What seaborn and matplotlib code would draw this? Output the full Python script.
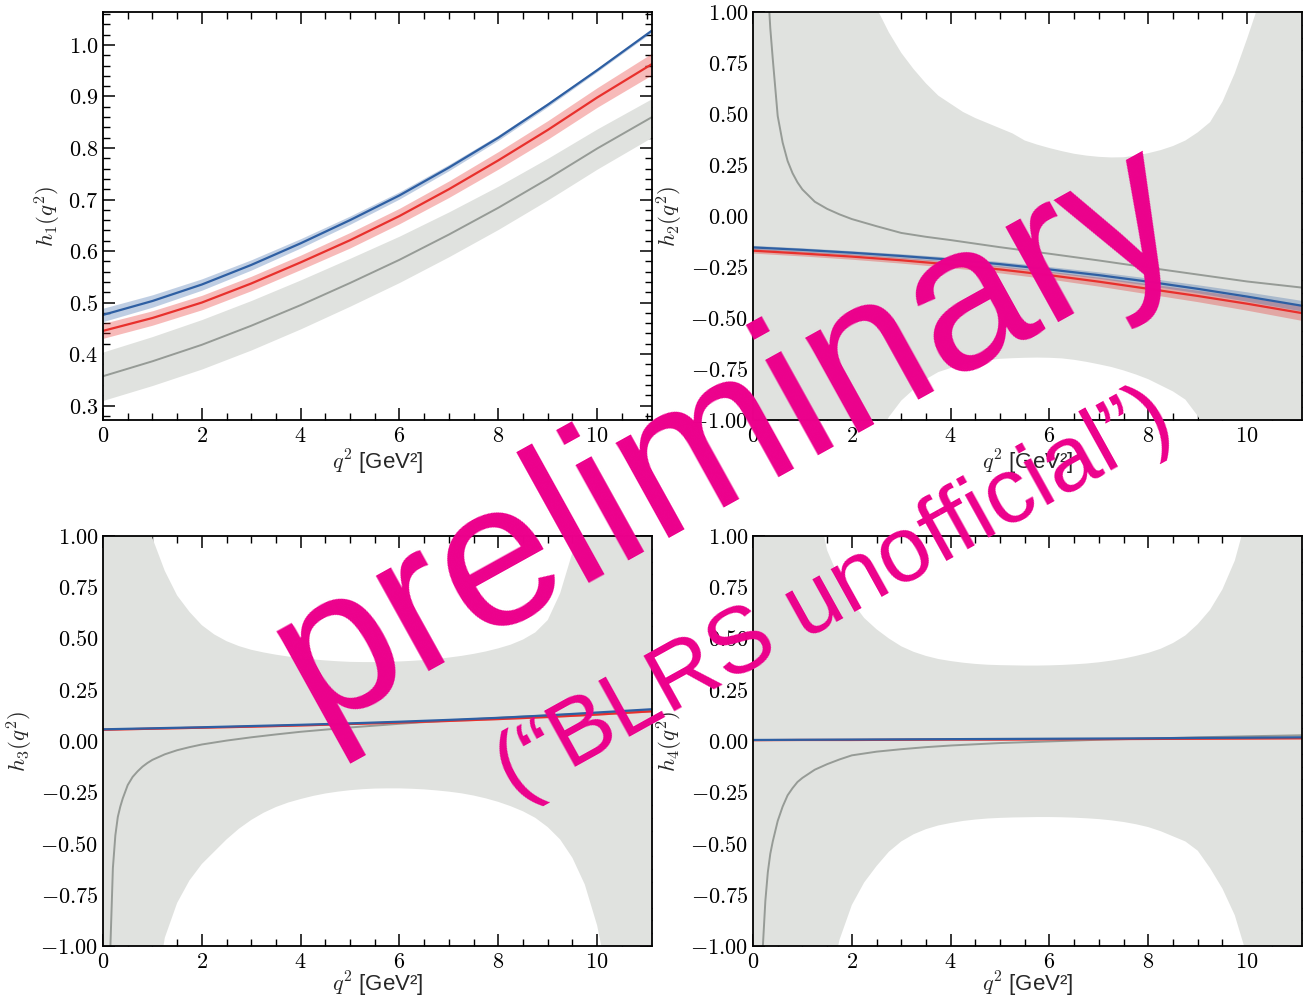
import matplotlib
matplotlib.use("Agg")
import matplotlib.pyplot as plt
from matplotlib.ticker import MultipleLocator, AutoMinorLocator, FuncFormatter
import seaborn as sns

# ---------------------------------------------------------------- data
# q^2 grid of the fitted form factors (blue / red) and of h1's light-cone curve
q2 = [0.0, 1.0, 2.0, 3.0, 4.0, 5.0, 6.0, 7.0, 8.0, 9.0, 10.0, 11.11]
# q^2 grid of the light-cone uncertainty bands of h2..h4
q2_band = [0.0, 0.25, 0.5, 0.75, 1.0, 1.25, 1.5, 1.75, 2.0, 2.25, 2.5, 2.75, 3.0, 3.25,
           3.5, 3.75, 4.0, 4.25, 4.5, 4.75, 5.0, 5.25, 5.5, 5.75, 6.0, 6.25, 6.5, 6.75,
           7.0, 7.25, 7.5, 7.75, 8.0, 8.25, 8.5, 8.75, 9.0, 9.25, 9.5, 9.75, 10.0, 10.25,
           10.5, 10.75, 11.0, 11.11]
# q^2 grid of the light-cone central curves of h2..h4 (dense where they blow up)
q2_line = [0.05, 0.1, 0.15, 0.2, 0.25, 0.3, 0.35, 0.4, 0.5, 0.6, 0.7, 0.8, 0.9, 1.0,
           1.25, 1.5, 1.75, 2.0, 2.5, 3.0, 3.5, 4.0, 5.0, 6.0, 7.0, 8.0, 9.0, 10.0, 11.11]

# h1
h1_blue = [0.476, 0.503, 0.535, 0.573, 0.615, 0.660, 0.708, 0.762, 0.820, 0.884, 0.951, 1.028]
h1_blue_err = [0.013, 0.012, 0.011, 0.010, 0.009, 0.008, 0.007, 0.006, 0.005, 0.004, 0.003, 0.003]
h1_red = [0.445, 0.470, 0.500, 0.537, 0.578, 0.621, 0.668, 0.720, 0.776, 0.835, 0.898, 0.963]
h1_red_err = [0.0145, 0.014, 0.014, 0.014, 0.014, 0.015, 0.015, 0.016, 0.017, 0.018, 0.019, 0.021]
h1_gray = [0.357, 0.386, 0.418, 0.455, 0.495, 0.538, 0.583, 0.632, 0.684, 0.740, 0.799, 0.860]
h1_gray_hi = [0.404, 0.434, 0.467, 0.504, 0.544, 0.586, 0.629, 0.676, 0.726, 0.780, 0.837, 0.896]
h1_gray_lo = [0.310, 0.339, 0.371, 0.408, 0.449, 0.493, 0.539, 0.589, 0.642, 0.699, 0.759, 0.821]

# h2
h2_blue = [-0.154, -0.166, -0.180, -0.196, -0.214, -0.236, -0.262, -0.290, -0.322, -0.357, -0.395, -0.440]
h2_blue_err = [0.010, 0.010, 0.010, 0.011, 0.012, 0.013, 0.014, 0.016, 0.018, 0.020, 0.023, 0.026]
h2_red = [-0.170, -0.184, -0.199, -0.217, -0.238, -0.262, -0.290, -0.322, -0.357, -0.392, -0.430, -0.476]
h2_red_err = [0.012, 0.012, 0.013, 0.014, 0.015, 0.017, 0.019, 0.022, 0.025, 0.028, 0.032, 0.036]
h2_gray = [8.0, 4.0, 2.6, 1.9, 1.45, 1.13, 0.92, 0.77, 0.49, 0.36, 0.27, 0.21, 0.165, 0.13,
           0.07, 0.035, 0.008, -0.015, -0.05, -0.083, -0.102, -0.118, -0.153, -0.185,
           -0.218, -0.253, -0.287, -0.321, -0.351]
h2_gray_hi = [50.0, 20.0, 10.0, 6.0, 4.2, 3.2, 2.5, 2.0, 1.6, 1.28, 1.02, 0.90, 0.80, 0.72,
              0.65, 0.59, 0.55, 0.51, 0.48, 0.455, 0.43, 0.405, 0.37, 0.35, 0.333, 0.318,
              0.305, 0.296, 0.29, 0.287, 0.288, 0.296, 0.308, 0.323, 0.343, 0.37, 0.41,
              0.46, 0.56, 0.70, 0.87, 1.05, 1.3, 1.6, 2.0, 2.2]
h2_gray_lo = [-50.0, -20.0, -10.0, -6.0, -4.2, -3.2, -2.5, -2.0, -1.6, -1.32, -1.1, -0.985,
              -0.905, -0.85, -0.80, -0.765, -0.745, -0.728, -0.716, -0.707, -0.70, -0.697,
              -0.695, -0.694, -0.695, -0.698, -0.705, -0.715, -0.727, -0.74, -0.757, -0.777,
              -0.80, -0.83, -0.86, -0.90, -0.98, -1.1, -1.25, -1.45, -1.7, -2.0, -2.4, -2.9,
              -3.5, -3.8]

# h3
h3_blue = [0.057, 0.062, 0.067, 0.073, 0.079, 0.086, 0.094, 0.103, 0.113, 0.125, 0.139, 0.155]
h3_blue_err = [0.003] * 12
h3_red = [0.055, 0.060, 0.065, 0.070, 0.076, 0.083, 0.090, 0.098, 0.107, 0.117, 0.129, 0.145]
h3_red_err = [0.003] * 12
h3_gray = [-6.0, -2.2, -1.0, -0.62, -0.46, -0.37, -0.32, -0.28, -0.215, -0.175, -0.148,
           -0.125, -0.107, -0.092, -0.065, -0.045, -0.03, -0.017, 0.002, 0.018, 0.032,
           0.045, 0.066, 0.084, 0.100, 0.113, 0.125, 0.136, 0.146]
h3_gray_hi = [50.0, 10.0, 3.0, 1.6, 0.99, 0.83, 0.71, 0.63, 0.565, 0.52, 0.487, 0.463,
              0.445, 0.432, 0.421, 0.412, 0.404, 0.398, 0.393, 0.389, 0.386, 0.385, 0.385,
              0.386, 0.388, 0.391, 0.395, 0.40, 0.407, 0.415, 0.425, 0.437, 0.452, 0.47,
              0.495, 0.53, 0.59, 0.72, 0.92, 1.2, 1.5, 2.0, 2.7, 3.6, 4.8, 5.4]
h3_gray_lo = [-50.0, -12.0, -4.5, -2.2, -1.35, -0.96, -0.79, -0.68, -0.60, -0.54, -0.48,
              -0.428, -0.385, -0.35, -0.322, -0.30, -0.283, -0.268, -0.256, -0.247, -0.24,
              -0.235, -0.232, -0.231, -0.231, -0.233, -0.236, -0.241, -0.247, -0.255,
              -0.266, -0.28, -0.297, -0.318, -0.343, -0.375, -0.42, -0.48, -0.57, -0.70,
              -0.90, -1.2, -1.6, -2.2, -3.0, -3.4]

# h4
h4_blue = [0.005, 0.006, 0.007, 0.008, 0.009, 0.010, 0.011, 0.012, 0.013, 0.015, 0.016, 0.018]
h4_blue_err = [0.002] * 12
h4_red = [0.004, 0.005, 0.005, 0.006, 0.007, 0.007, 0.008, 0.009, 0.010, 0.011, 0.012, 0.013]
h4_red_err = [0.002] * 12
h4_gray = [-8.0, -3.5, -1.6, -1.0, -0.78, -0.64, -0.55, -0.49, -0.39, -0.32, -0.265, -0.23,
           -0.20, -0.18, -0.14, -0.113, -0.09, -0.07, -0.052, -0.04, -0.03, -0.022, -0.01,
           -0.002, 0.006, 0.012, 0.018, 0.023, 0.028]
h4_gray_hi = [50.0, 15.0, 6.0, 3.2, 2.0, 1.22, 0.93, 0.79, 0.68, 0.60, 0.545, 0.50, 0.462,
              0.435, 0.415, 0.40, 0.39, 0.382, 0.376, 0.372, 0.37, 0.369, 0.368, 0.368,
              0.369, 0.371, 0.374, 0.378, 0.384, 0.392, 0.402, 0.415, 0.43, 0.45, 0.478,
              0.515, 0.57, 0.64, 0.74, 0.88, 1.1, 1.4, 1.8, 2.3, 3.0, 3.4]
h4_gray_lo = [-50.0, -15.0, -6.0, -3.4, -2.3, -1.65, -1.25, -0.97, -0.80, -0.69, -0.61,
              -0.54, -0.49, -0.455, -0.43, -0.412, -0.40, -0.39, -0.383, -0.378, -0.375,
              -0.373, -0.372, -0.371, -0.371, -0.372, -0.374, -0.377, -0.381, -0.387,
              -0.395, -0.406, -0.42, -0.44, -0.465, -0.49, -0.535, -0.62, -0.72, -0.85,
              -1.05, -1.35, -1.7, -2.2, -2.8, -3.1]

panels = [
    dict(label=r"$h_1(q^2)$", blue=h1_blue, blue_err=h1_blue_err, red=h1_red, red_err=h1_red_err,
         gq=q2, gray=h1_gray, bq=q2, lo=h1_gray_lo, hi=h1_gray_hi),
    dict(label=r"$h_2(q^2)$", blue=h2_blue, blue_err=h2_blue_err, red=h2_red, red_err=h2_red_err,
         gq=q2_line, gray=h2_gray, bq=q2_band, lo=h2_gray_lo, hi=h2_gray_hi),
    dict(label=r"$h_3(q^2)$", blue=h3_blue, blue_err=h3_blue_err, red=h3_red, red_err=h3_red_err,
         gq=q2_line, gray=h3_gray, bq=q2_band, lo=h3_gray_lo, hi=h3_gray_hi),
    dict(label=r"$h_4(q^2)$", blue=h4_blue, blue_err=h4_blue_err, red=h4_red, red_err=h4_red_err,
         gq=q2_line, gray=h4_gray, bq=q2_band, lo=h4_gray_lo, hi=h4_gray_hi),
]

# ---------------------------------------------------------------- style
sns.set_theme(style="ticks")
plt.rcParams["font.family"] = ["Liberation Sans", "DejaVu Sans"]
plt.rcParams["mathtext.fontset"] = "cm"
plt.rcParams["axes.linewidth"] = 1.3
plt.rcParams["axes.edgecolor"] = "black"

BLUE = "#2e5fa3"
RED = "#e8302c"
GRAY = "#969b96"
GRAY_BAND = "#e0e2df"
MAGENTA = "#ec008c"

W, H = 1312, 999
fig = plt.figure(figsize=(W / 100, H / 100), dpi=100)

boxes = [(103, 12, 652, 420), (753, 12, 1302, 420),
         (103, 536, 652, 946), (753, 536, 1302, 946)]


def math_fmt(decimals):
    return FuncFormatter(lambda v, pos: "$" + f"{v:.{decimals}f}" + "$")


for i, (p, (l, t, r, b)) in enumerate(zip(panels, boxes)):
    ax = fig.add_axes([l / W, 1 - b / H, (r - l) / W, (b - t) / H])
    ax.fill_between(p["bq"], p["lo"], p["hi"], color=GRAY_BAND, lw=0, zorder=1)
    lo_b = [v - e for v, e in zip(p["blue"], p["blue_err"])]
    hi_b = [v + e for v, e in zip(p["blue"], p["blue_err"])]
    lo_r = [v - e for v, e in zip(p["red"], p["red_err"])]
    hi_r = [v + e for v, e in zip(p["red"], p["red_err"])]
    ax.fill_between(q2, lo_r, hi_r, color=RED, alpha=0.33, lw=0, zorder=2)
    ax.fill_between(q2, lo_b, hi_b, color=BLUE, alpha=0.3, lw=0, zorder=2)
    sns.lineplot(x=p["gq"], y=p["gray"], ax=ax, color=GRAY, lw=1.4, sort=False,
                 estimator=None, legend=False, zorder=3)
    sns.lineplot(x=q2, y=p["red"], ax=ax, color=RED, lw=1.6, sort=False,
                 estimator=None, legend=False, zorder=4)
    sns.lineplot(x=q2, y=p["blue"], ax=ax, color=BLUE, lw=1.6, sort=False,
                 estimator=None, legend=False, zorder=5)

    ax.set_xlim(0, 11.11)
    ax.xaxis.set_major_locator(MultipleLocator(2))
    ax.xaxis.set_minor_locator(AutoMinorLocator(4))
    ax.xaxis.set_major_formatter(math_fmt(0))
    if i == 0:
        ax.set_ylim(0.272, 1.064)
        ax.yaxis.set_major_locator(MultipleLocator(0.1))
        ax.yaxis.set_minor_locator(AutoMinorLocator(5))
        ax.yaxis.set_major_formatter(math_fmt(1))
    else:
        ax.set_ylim(-1.0, 1.0)
        ax.yaxis.set_major_locator(MultipleLocator(0.25))
        ax.yaxis.set_minor_locator(AutoMinorLocator(4))
        ax.yaxis.set_major_formatter(math_fmt(2))

    ax.tick_params(which="both", direction="in", top=True, right=True,
                   colors="black", labelsize=16)
    ax.tick_params(axis="y", pad=3.5)
    ax.tick_params(axis="x", pad=4)
    ax.tick_params(which="major", length=8.5, width=1.1)
    ax.tick_params(which="minor", length=5, width=1.0)
    ax.set_xlabel(r"$q^2$ [GeV²]", fontsize=16, labelpad=1 if i < 2 else -1.5)
    ax.set_ylabel(p["label"], fontsize=16.5, labelpad=4)
    for s in ax.spines.values():
        s.set_zorder(10)

# watermark
fig.text(730 / W, 1 - 436 / H, "preliminary", color=MAGENTA, fontsize=148,
         rotation=29, ha="center", va="center", rotation_mode="anchor",
         family=["Liberation Sans", "DejaVu Sans"], zorder=20)
fig.text(835 / W, 1 - 596 / H, "(\u201cBLRS unofficial\u201d)", color=MAGENTA, fontsize=67,
         rotation=29, ha="center", va="center", rotation_mode="anchor",
         family=["Liberation Sans", "DejaVu Sans"], zorder=20)

fig.savefig("out.png", dpi=100)
